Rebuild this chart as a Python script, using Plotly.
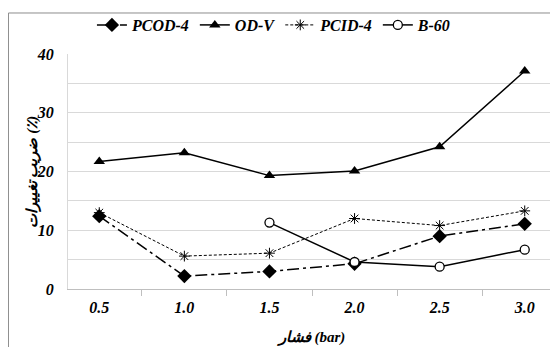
import plotly.graph_objects as go

categories = ["0.5", "1.0", "1.5", "2.0", "2.5", "3.0"]
pcod4 = [12.4, 2.2, 3.0, 4.3, 9.0, 11.1]
odv = [21.7, 23.2, 19.3, 20.1, 24.2, 37.1]
pcid4 = [13.0, 5.6, 6.1, 12.0, 10.8, 13.3]
b60_cats = ["1.5", "2.0", "2.5", "3.0"]
b60 = [11.3, 4.6, 3.8, 6.7]

series_names = ["PCOD-4", "OD-V", "PCID-4", "B-60"]
y_ticks = [0, 10, 20, 30, 40]
x_title = "فشار (bar)"
y_title = "ضریب تغییرات (٪)"

SERIF = "Liberation Serif"
fnt = dict(family=SERIF, size=16, color="black", weight="bold", style="italic")

fig = go.Figure()
fig.add_trace(go.Scatter(x=categories, y=pcod4, name=series_names[0], mode="lines+markers",
                         line=dict(color="black", width=1.5, dash="12px,4px,3px,4px"),
                         marker=dict(symbol="diamond", size=11, color="black")))
fig.add_trace(go.Scatter(x=categories, y=odv, name=series_names[1], mode="lines+markers",
                         line=dict(color="black", width=1.5),
                         marker=dict(symbol="triangle-up", size=10, color="black")))
fig.add_trace(go.Scatter(x=categories, y=pcid4, name=series_names[2], mode="lines+markers",
                         line=dict(color="black", width=1, dash="3px,2px"),
                         marker=dict(symbol="asterisk-open", size=9, color="black",
                                     line=dict(color="black", width=1))))
fig.add_trace(go.Scatter(x=b60_cats, y=b60, name=series_names[3], mode="lines+markers",
                         line=dict(color="black", width=1.5),
                         marker=dict(symbol="circle", size=9, color="white",
                                     line=dict(color="black", width=1.3))))

fig.update_layout(
    width=550, height=339,
    margin=dict(l=60, r=2, t=46, b=58),
    paper_bgcolor="white", plot_bgcolor="white",
    font=fnt,
    showlegend=True,
    legend=dict(orientation="h", x=0.422, xanchor="center", yref="container", y=1.0,
                yanchor="top", font=fnt, itemwidth=30, tracegroupgap=0,
                bgcolor="rgba(0,0,0,0)"),
    xaxis=dict(type="category", categoryorder="array", categoryarray=categories,
               automargin=False,
               showgrid=False, showline=True, linecolor="#bfbfbf", linewidth=1,
               ticks="outside", tickson="boundaries", tickcolor="#bfbfbf", ticklen=6,
               tickfont=fnt, ticklabelstandoff=4,
               title=dict(text=x_title, font=dict(family=SERIF + ", DejaVu Serif", size=15,
                                                  weight="bold", style="italic", color="black"),
                          standoff=16)),
    yaxis=dict(range=[0, 40], tickvals=y_ticks, showgrid=True, gridcolor="#d9d9d9",
               automargin=False,
               minor=dict(dtick=5, tick0=0, showgrid=True, gridcolor="#d9d9d9"),
               showline=True, linecolor="#d9d9d9", zeroline=False,
               tickfont=fnt, ticks="", ticklabelstandoff=10),
)

fig.add_annotation(text=y_title, textangle=-90, xref="paper", yref="paper",
                   x=-0.072, y=0.5, xanchor="center", yanchor="middle", showarrow=False,
                   font=dict(family=SERIF + ", DejaVu Serif", size=15, weight="bold", color="black"))

fig.add_shape(type="rect", xref="paper", yref="paper", x0=-0.122, x1=1.1, y0=-0.3, y1=1.1745,
              line=dict(color="#8c8c8c", width=1), fillcolor="rgba(0,0,0,0)", layer="below")

fig.write_html("out.html")
